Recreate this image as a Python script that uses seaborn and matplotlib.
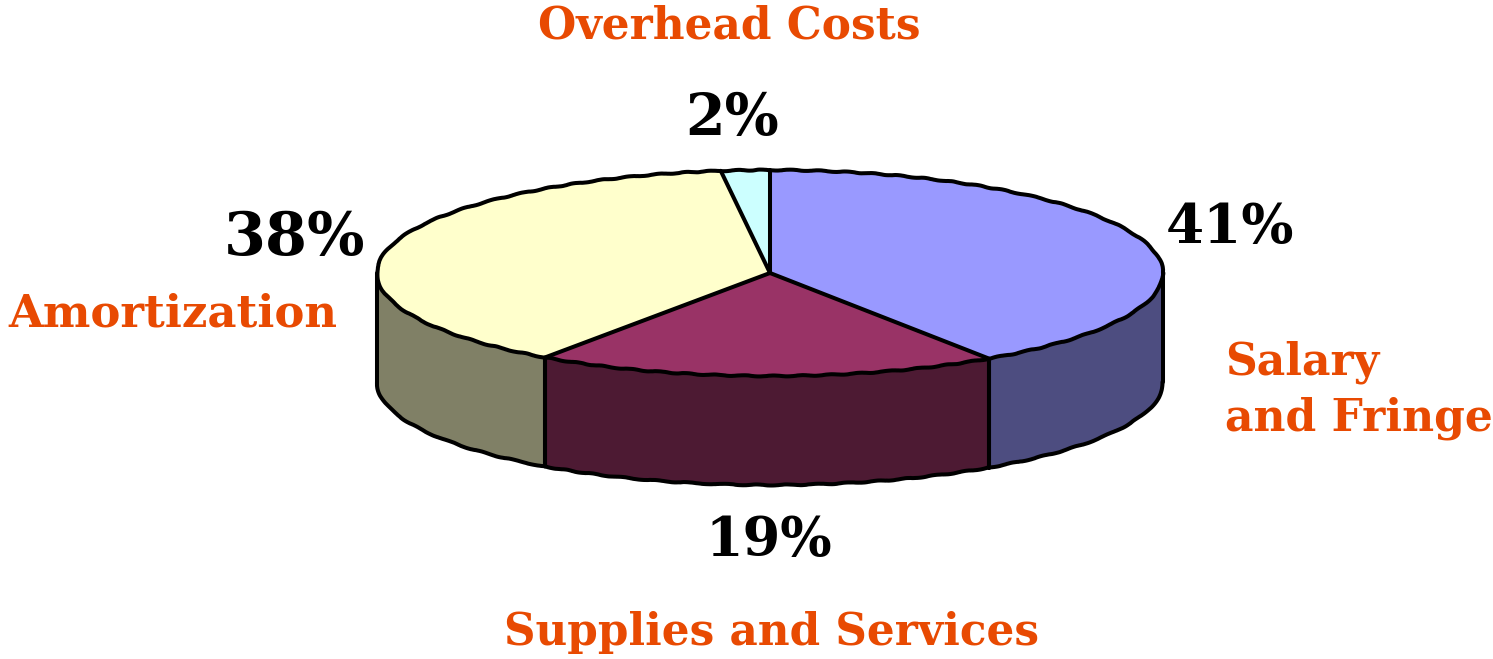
import numpy as np
import matplotlib
matplotlib.use('Agg')
import matplotlib.pyplot as plt
import seaborn as sns

sns.set_theme(style='white')
plt.rcParams['font.family'] = ['DejaVu Serif']

# Data
categories = ['Salary\nand Fringe', 'Supplies and Services', 'Amortization', 'Overhead Costs']
values = [40.6, 19.1, 38.3, 2.0]
top_colors = ['#9999FF', '#993366', '#FFFFCC', '#CCFFFF']
side_colors = ['#4D4D80', '#4D1A33', '#808066', '#668080']

W, H = 1493, 659
cx, cy, rx, ry, depth = 770, 273, 393, 103, 109
lw = 2.9

fig = plt.figure(figsize=(W / 100, H / 100), dpi=100)
ax = fig.add_axes([0, 0, 1, 1])

# Side walls, only the front half of the ellipse shows
edges = 90 - np.cumsum([0] + values) * 3.6
d = depth / ry
for i in range(len(values)):
    lo, hi = max(edges[i + 1], -180), min(edges[i], 0)
    if lo >= hi:
        continue
    t = np.radians(np.linspace(lo, hi, 80))
    ax.fill_between(np.cos(t), np.sin(t) - d, np.sin(t),
                    color=side_colors[i], linewidth=0, zorder=1)
    bottom, = ax.plot(np.cos(t), np.sin(t) - d, color='black', linewidth=lw, zorder=1.5)
    bottom.set_sketch_params(0.5, 30, 2)
    for a in [lo, hi]:
        x = np.cos(np.radians(a))
        y = np.sin(np.radians(a))
        ax.plot([x, x], [y, y - d], color='black', linewidth=lw, zorder=1.5)

# Top face
ax.pie(values, colors=top_colors, startangle=90, counterclock=False,
       wedgeprops={'linewidth': 0, 'zorder': 2})

# Spokes and rim of the top face
for a in edges[:-1]:
    ax.plot([0, np.cos(np.radians(a))], [0, np.sin(np.radians(a))],
            color='black', linewidth=lw, zorder=3)
t = np.linspace(0, 2 * np.pi, 400)
rim, = ax.plot(np.cos(t), np.sin(t), color='black', linewidth=lw, zorder=3)
rim.set_sketch_params(0.5, 30, 2)

ax.set_aspect('auto')
ax.set_xlim(-cx / rx, (W - cx) / rx)
ax.set_ylim((cy - H) / ry, cy / ry)
ax.axis('off')


def put(px, py, s, **kw):
    fig.text(px / W, 1 - py / H, s, ha='center', va='center',
             fontweight='bold', **kw)


# Percent labels
pct_pos = [(1230, 228), (769, 541), (295, 238), (732, 119)]
pct_size = [39.5, 39, 43.5, 41]
for v, (px, py), fs in zip(values, pct_pos, pct_size):
    put(px, py, f'{round(v)}%', fontsize=fs, color='black')

# Category labels
orange = '#E84A02'
fig.text(1225 / W, 1 - 390 / H, categories[0], ha='left', va='center',
         fontweight='bold', fontsize=31.7, color=orange, linespacing=1.38)
put(771, 633, categories[1], fontsize=31.5, color=orange)
put(173, 314, categories[2], fontsize=32.4, color=orange)
put(729, 26, categories[3], fontsize=31.6, color=orange)

plt.savefig('out.png', dpi=100)
